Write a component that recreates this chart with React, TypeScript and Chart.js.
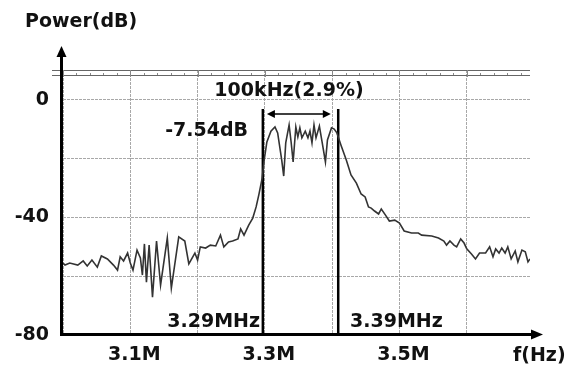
import React, { useEffect, useRef } from "react";
import { Chart, registerables } from "chart.js";

Chart.register(...registerables);

// Spectrum trace: frequency (MHz) and power (dB)
const freqMHz = [
  3.000, 3.003, 3.010, 3.022, 3.030, 3.036, 3.043, 3.051, 3.057, 3.066,
  3.075, 3.081, 3.085, 3.090, 3.096, 3.100, 3.104, 3.110, 3.115, 3.118,
  3.121, 3.124, 3.128, 3.133, 3.139, 3.145, 3.155, 3.161, 3.172, 3.181,
  3.187, 3.196, 3.200, 3.204, 3.212, 3.219, 3.227, 3.234, 3.239, 3.246,
  3.252, 3.260, 3.264, 3.269, 3.276, 3.282, 3.287, 3.291, 3.296, 3.299,
  3.303, 3.309, 3.315, 3.319, 3.325, 3.328, 3.331, 3.336, 3.339, 3.342,
  3.346, 3.349, 3.352, 3.355, 3.360, 3.364, 3.367, 3.370, 3.373, 3.376,
  3.381, 3.385, 3.390, 3.393, 3.399, 3.403, 3.407, 3.413, 3.421, 3.428,
  3.436, 3.443, 3.449, 3.454, 3.458, 3.463, 3.469, 3.473, 3.479, 3.485,
  3.493, 3.500, 3.507, 3.518, 3.528, 3.533, 3.548, 3.558, 3.566, 3.570,
  3.575, 3.581, 3.585, 3.591, 3.596, 3.600, 3.607, 3.613, 3.619, 3.628,
  3.634, 3.639, 3.643, 3.648, 3.652, 3.657, 3.661, 3.666, 3.672, 3.676,
  3.682, 3.687, 3.691, 3.694,
];
const powerDB = [
  -55.5, -56.2, -55.5, -56.2, -54.8, -56.5, -54.5, -56.9, -53.1, -54.1,
  -56.2, -57.9, -53.4, -54.8, -52.1, -55.5, -57.9, -51.1, -53.8, -59.6,
  -49.0, -62.0, -49.4, -67.1, -48.0, -63.0, -47.0, -64.0, -46.6, -48.0,
  -55.8, -52.1, -54.5, -50.0, -50.4, -49.4, -49.7, -46.0, -50.0, -48.3,
  -48.0, -47.3, -43.9, -46.0, -42.6, -40.2, -36.4, -32.3, -26.6, -20.4,
  -14.3, -10.6, -9.2, -11.2, -20.4, -25.9, -14.6, -8.5, -14.3, -21.1,
  -9.2, -12.6, -9.5, -12.9, -10.6, -12.9, -10.6, -14.6, -8.5, -12.9,
  -8.9, -14.3, -21.1, -13.6, -9.5, -9.9, -11.2, -15.3, -20.4, -25.5,
  -28.3, -32.0, -33.0, -36.4, -36.8, -37.8, -38.8, -37.1, -39.1, -41.2,
  -40.9, -41.9, -44.6, -45.3, -45.3, -46.0, -46.3, -47.0, -48.0, -49.4,
  -48.0, -49.4, -50.0, -47.3, -48.7, -50.7, -52.4, -54.1, -52.1, -52.1,
  -50.0, -53.4, -50.7, -52.1, -50.4, -52.1, -50.0, -54.1, -51.4, -55.1,
  -51.1, -51.7, -55.1, -54.1,
];

// Band edges (MHz) and their marker span (dB)
const bandEdges = [3.297, 3.409];
const bandSpanDB = [-3.1, -80];
const bandArrowMHz = [3.303, 3.398];
const bandArrowDB = -4.8;

const xTickLabels = [3.1, 3.3, 3.5];
const yTickLabels = [0, -40, -80];
const xRange = [3.0, 3.694];
const yRange = [-80, 10.2];

const FONT = '"DejaVu Sans", sans-serif';

export default function App() {
  const ref = useRef<HTMLCanvasElement | null>(null);

  useEffect(() => {
    document.body.style.margin = "0";
    const canvas = ref.current;
    if (!canvas) return;

    const decor = {
      id: "decor",
      afterDraw(chart: any) {
        const ctx = chart.ctx as CanvasRenderingContext2D;
        const { left, right, top, bottom } = chart.chartArea;
        const xs = chart.scales.x;
        const ys = chart.scales.y;
        ctx.save();

        // top ruler lines
        ctx.strokeStyle = "#666";
        ctx.lineWidth = 1;
        const yTop2 = top + 5;
        ctx.beginPath();
        ctx.moveTo(left - 11, top + 0.5);
        ctx.lineTo(right, top + 0.5);
        ctx.moveTo(left - 11, yTop2 + 0.5);
        ctx.lineTo(right, yTop2 + 0.5);
        ctx.stroke();
        ctx.strokeStyle = "#888";
        for (let k = 0; k <= 34; k++) {
          const f = xRange[0] + k * 0.02;
          const px = Math.round(xs.getPixelForValue(f)) + 0.5;
          if (px > right) break;
          ctx.beginPath();
          if (k % 5 === 0) {
            ctx.moveTo(px, top);
            ctx.lineTo(px, yTop2 + 2);
          } else {
            ctx.moveTo(px, yTop2 - 2);
            ctx.lineTo(px, yTop2);
          }
          ctx.stroke();
        }

        // axes with arrows
        ctx.strokeStyle = "#000";
        ctx.fillStyle = "#000";
        ctx.lineWidth = 3;
        const ax = left - 1.5;
        const ay = bottom - 0.5;
        ctx.beginPath();
        ctx.moveTo(ax, ay + 1.5);
        ctx.lineTo(ax, 55);
        ctx.moveTo(ax - 1.5, ay);
        ctx.lineTo(533, ay);
        ctx.stroke();
        ctx.beginPath();
        ctx.moveTo(ax, 46);
        ctx.lineTo(ax - 5, 57);
        ctx.lineTo(ax + 5, 57);
        ctx.closePath();
        ctx.fill();
        ctx.beginPath();
        ctx.moveTo(543, ay);
        ctx.lineTo(531, ay - 5);
        ctx.lineTo(531, ay + 5);
        ctx.closePath();
        ctx.fill();

        // band double arrow
        const a0 = xs.getPixelForValue(bandArrowMHz[0]);
        const a1 = xs.getPixelForValue(bandArrowMHz[1]);
        const ayA = ys.getPixelForValue(bandArrowDB);
        ctx.lineWidth = 1.5;
        ctx.beginPath();
        ctx.moveTo(a0 + 4, ayA);
        ctx.lineTo(a1 - 4, ayA);
        ctx.stroke();
        ctx.beginPath();
        ctx.moveTo(a0, ayA);
        ctx.lineTo(a0 + 8, ayA - 4);
        ctx.lineTo(a0 + 8, ayA + 4);
        ctx.closePath();
        ctx.moveTo(a1, ayA);
        ctx.lineTo(a1 - 8, ayA - 4);
        ctx.lineTo(a1 - 8, ayA + 4);
        ctx.closePath();
        ctx.fill();

        // texts
        ctx.fillStyle = "#111";
        ctx.font = `bold 19px ${FONT}`;
        ctx.textBaseline = "middle";
        ctx.textAlign = "left";
        ctx.fillText("Power(dB)", 25, 22);
        ctx.textAlign = "center";
        ctx.fillText("100kHz(2.9%)", 289, 91);
        ctx.textAlign = "right";
        ctx.fillText("-7.54dB", 248, 131);
        ctx.fillText("3.29MHz", 260, 322);
        ctx.textAlign = "left";
        ctx.fillText("3.39MHz", 350, 322);
        ctx.fillText("f(Hz)", 513, 356);
        ctx.restore();
      },
    };

    const trace = freqMHz.map((f, i) => ({ x: f, y: powerDB[i] }));
    const edgeSets = bandEdges.map((f) => ({
      data: bandSpanDB.map((v) => ({ x: f, y: v })),
      borderColor: "#000",
      borderWidth: 2.5,
      pointRadius: 0,
      fill: false,
    }));

    const chart = new Chart(canvas, {
      type: "line",
      data: {
        datasets: [
          {
            data: trace,
            borderColor: "#333",
            borderWidth: 1.6,
            pointRadius: 0,
            tension: 0,
            fill: false,
          },
          ...edgeSets,
        ],
      },
      options: {
        animation: false,
        responsive: false,
        devicePixelRatio: 1,
        layout: { padding: { left: 0, top: 70, right: 44, bottom: 0 } },
        plugins: { legend: { display: false }, tooltip: { enabled: false } },
        scales: {
          x: {
            type: "linear",
            min: xRange[0],
            max: xRange[1],
            afterFit: (s: any) => {
              s.height = 32;
            },
            grid: { color: "#a8a8a8", lineWidth: 1, drawTicks: false },
            border: { display: false, dash: [3, 1] },
            ticks: {
              stepSize: 0.1,
              includeBounds: false,
              autoSkip: false,
              maxRotation: 0,
              padding: 9,
              labelOffset: 4,
              color: "#111",
              font: { family: FONT, size: 19, weight: "bold" },
              callback: (v: any) => {
                const r = Math.round(Number(v) * 10) / 10;
                return xTickLabels.includes(r) ? `${r}M` : "";
              },
            },
          },
          y: {
            type: "linear",
            min: yRange[0],
            max: yRange[1],
            afterFit: (s: any) => {
              s.width = 63;
            },
            grid: { color: "#a8a8a8", lineWidth: 1, drawTicks: false },
            border: { display: false, dash: [3, 1] },
            ticks: {
              stepSize: 20,
              includeBounds: false,
              autoSkip: false,
              padding: 14,
              color: "#111",
              font: { family: FONT, size: 19, weight: "bold" },
              callback: (v: any) => {
                const r = Math.round(Number(v));
                return yTickLabels.includes(r) ? String(r) : "";
              },
            },
          },
        },
      },
      plugins: [decor],
    });
    return () => chart.destroy();
  }, []);

  return (
    <div style={{ position: "fixed", left: 0, top: 0, width: 574, height: 367, background: "#fff" }}>
      <canvas ref={ref} width={574} height={367} style={{ width: 574, height: 367 }} />
    </div>
  );
}
